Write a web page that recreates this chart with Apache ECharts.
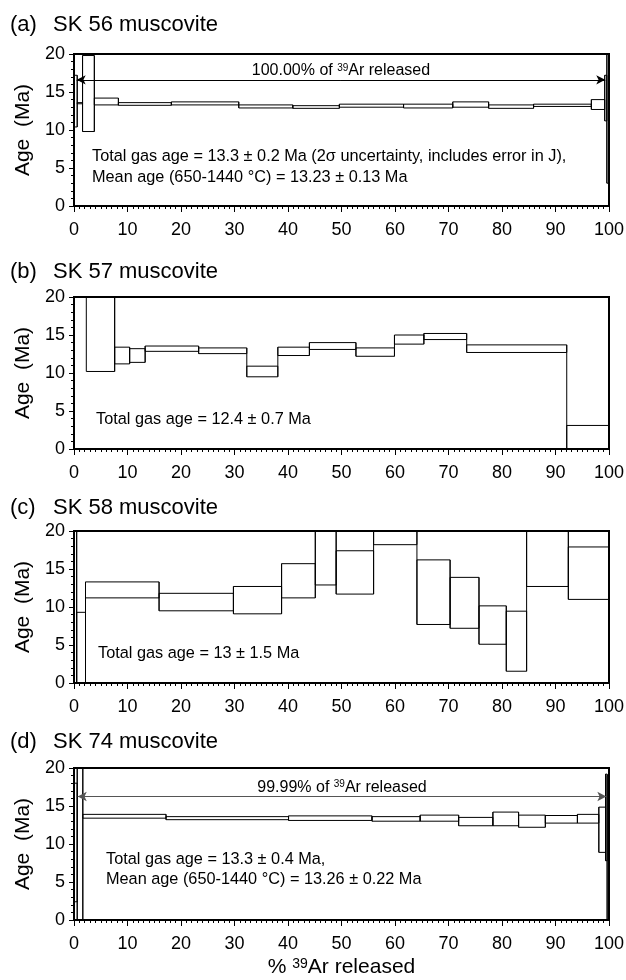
<!DOCTYPE html>
<html lang="en">
<head>
<meta charset="UTF-8">
<title>Age spectra</title>
</head>
<body style="margin:0;background:#fff">
<div id="main" style="width:626px;height:980px"></div>
<script src="https://cdn.jsdelivr.net/npm/echarts@6/dist/echarts.min.js"></script>
<script>
// step edges = cumulative % 39Ar, low/high = age envelope (Ma)
var aEdges = [0, 0.6, 1.6, 3.8, 8.3, 18.2, 30.8, 40.9, 49.6, 61.6, 70.8, 77.5, 85.9, 96.7, 99.2, 99.6, 100];
var aLow   = [10.4, 13.45, 9.8, 13.3, 13.25, 13.3, 12.9, 12.85, 13.0, 12.9, 13.0, 12.85, 13.1, 12.7, 11.2, 3.0];
var aHigh  = [17.2, 13.6, 19.8, 14.2, 13.6, 13.7, 13.3, 13.2, 13.4, 13.4, 13.7, 13.3, 13.4, 14.0, 17.2, 21];

var bEdges = [2.3, 7.6, 10.4, 13.3, 23.3, 32.3, 38.1, 44.0, 52.7, 59.9, 65.4, 73.4, 92.1, 100];
var bLow   = [10.2, 11.2, 11.4, 12.85, 12.55, 9.5, 12.3, 13.1, 12.2, 13.8, 14.4, 12.7, -2];
var bHigh  = [24, 13.4, 13.2, 13.55, 13.3, 10.9, 13.4, 14.0, 13.3, 15.0, 15.2, 13.7, 3.1];

var cEdges = [0, 0.5, 2.15, 15.9, 29.8, 38.8, 45.1, 49.0, 56.0, 64.1, 70.3, 75.7, 80.8, 84.6, 92.4, 100];
var cLow   = [-2, -2, 11.2, 9.5, 9.1, 11.2, 12.9, 11.7, 18.2, 7.7, 7.2, 5.1, 1.55, 12.7, 11.0];
var cHigh  = [22, 9.3, 13.3, 11.8, 12.7, 15.7, 22, 17.4, 22, 16.2, 13.9, 10.15, 9.45, 22, 17.9];

var dEdges = [0, 0.6, 1.65, 17.2, 40.1, 55.7, 64.7, 71.9, 78.3, 83.1, 88.1, 94.1, 98.1, 99.35, 99.65, 100];
var dLow   = [2.4, -2, 13.4, 13.2, 13.1, 13.0, 13.0, 12.4, 12.4, 12.2, 12.75, 12.75, 8.9, 7.8, -2];
var dHigh  = [18.0, 22, 13.9, 13.6, 13.7, 13.6, 13.8, 13.5, 14.2, 13.8, 13.75, 13.9, 14.85, 19.2, 19.0];

// plateau arrows: [from %, to %, age]
var aPlateau = [0.5, 99.3, 16.6];
var dPlateau = [0.7, 99.5, 16.25];

var panelTitles = ['SK 56 muscovite', 'SK 57 muscovite', 'SK 58 muscovite', 'SK 74 muscovite'];
var panelTags = ['(a)', '(b)', '(c)', '(d)'];

var F = 'Liberation Sans, Arial, Helvetica, sans-serif';
var gridTops = [54, 297, 531, 768];
var titleY = [25, 272, 508, 742];

function steps(edges, lo, hi) {
    var out = [];
    for (var i = 0; i < lo.length; i++) {
        out.push([edges[i], edges[i + 1], lo[i], hi[i]]);
    }
    return out;
}

// each box plus a vertical joining it to the previous step
function makeRender(rows) {
    return function (params, api) {
        var i = params.dataIndex;
        var cs = params.coordSys;
        var row = rows[i];
        var p0 = api.coord([row[0], row[3]]);
        var p1 = api.coord([row[1], row[2]]);
        var kids = [];
        var r = echarts.graphic.clipRectByRect(
            {x: p0[0], y: p0[1], width: p1[0] - p0[0], height: p1[1] - p0[1]},
            {x: cs.x, y: cs.y, width: cs.width, height: cs.height});
        if (r) kids.push({type: 'rect', shape: r, style: {fill: 'none', stroke: '#000', lineWidth: 1}});
        if (i > 0 && rows[i - 1][1] === row[0]) {
            var prev = rows[i - 1];
            var lo = api.coord([row[0], Math.min(prev[2], row[2])]);
            var hi = api.coord([row[0], Math.max(prev[3], row[3])]);
            var yb = Math.min(lo[1], cs.y + cs.height), yt = Math.max(hi[1], cs.y);
            kids.push({type: 'line', shape: {x1: lo[0], y1: yb, x2: lo[0], y2: yt},
                style: {stroke: '#000', lineWidth: 1}});
        }
        return {type: 'group', children: kids};
    };
}

function plateauLine(idx, p, label, color) {
    return {
        type: 'line', xAxisIndex: idx, yAxisIndex: idx, data: [],
        markLine: {
            silent: true, animation: false,
            symbol: ['arrow', 'arrow'], symbolSize: [7, 9],
            lineStyle: {color: color, width: 1, type: 'solid'},
            label: {
                show: true, position: 'middle', distance: 1,
                formatter: label, color: '#000', fontSize: 16, fontFamily: F,
                rich: {sup: {fontSize: 10, fontFamily: F, color: '#000', verticalAlign: 'top'}}
            },
            data: [[{coord: [p[0], p[2]]}, {coord: [p[1], p[2]]}]]
        }
    };
}

var grids = [], xAxes = [], yAxes = [];
for (var i = 0; i < 4; i++) {
    grids.push({left: 74, right: 17, top: gridTops[i], height: 152, show: true,
        borderColor: '#000', borderWidth: 2, containLabel: false, outerBoundsMode: 'none'});
    xAxes.push({
        type: 'value', gridIndex: i, min: 0, max: 100, interval: 10,
        axisLine: {show: true, onZero: false, lineStyle: {color: '#000', width: 2}},
        axisTick: {show: true, length: 6, lineStyle: {color: '#000', width: 1}},
        minorTick: {show: true, splitNumber: 10, length: 3, lineStyle: {color: '#000', width: 1}},
        axisLabel: {color: '#000', fontSize: 18, fontFamily: F, margin: 15},
        splitLine: {show: false}, minorSplitLine: {show: false},
        name: i === 3 ? '% {sup|39}Ar released' : '',
        nameLocation: 'middle', nameGap: 37,
        nameTextStyle: {color: '#000', fontSize: 21, fontFamily: F,
            rich: {sup: {fontSize: 14, fontFamily: F, color: '#000', verticalAlign: 'top'}}}
    });
    yAxes.push({
        type: 'value', gridIndex: i, min: 0, max: 20, interval: 5,
        axisLine: {show: true, onZero: false, lineStyle: {color: '#000', width: 2}},
        axisTick: {show: true, length: 5, lineStyle: {color: '#000', width: 1}},
        minorTick: {show: true, splitNumber: 5, length: 3, lineStyle: {color: '#000', width: 1}},
        axisLabel: {color: '#000', fontSize: 18, fontFamily: F, margin: 9},
        splitLine: {show: false}, minorSplitLine: {show: false},
        name: 'Age  (Ma)', nameLocation: 'middle', nameGap: 40, nameRotate: 90,
        nameTextStyle: {color: '#000', fontSize: 21, fontFamily: F}
    });
}

var allSteps = [steps(aEdges, aLow, aHigh), steps(bEdges, bLow, bHigh),
                steps(cEdges, cLow, cHigh), steps(dEdges, dLow, dHigh)];
var series = [];
for (var k = 0; k < 4; k++) {
    series.push({
        type: 'custom', xAxisIndex: k, yAxisIndex: k, renderItem: makeRender(allSteps[k]),
        encode: {x: [0, 1], y: [2, 3]}, data: allSteps[k], silent: true
    });
}
series.push(plateauLine(0, aPlateau, '100.00% of {sup|39}Ar released', '#000'));
series.push(plateauLine(3, dPlateau, '99.99% of {sup|39}Ar released', '#555'));

function txt(x, y, s, size) {
    return {type: 'text', x: x, y: y, silent: true,
        style: {text: s, fontSize: size, fontFamily: F, fill: '#000', verticalAlign: 'middle', align: 'left'}};
}

var graphics = [];
for (var t = 0; t < 4; t++) {
    graphics.push(txt(10, titleY[t], panelTags[t], 22));
    graphics.push(txt(53, titleY[t], panelTitles[t], 22));
}
graphics.push(txt(92, 157, 'Total gas age = 13.3 \u00b1 0.2 Ma (2\u03c3 uncertainty, includes error in J),', 16.3));
graphics.push(txt(92, 178, 'Mean age (650-1440 \u00b0C) = 13.23 \u00b1 0.13 Ma', 16.3));
graphics.push(txt(96, 420, 'Total gas age = 12.4 \u00b1 0.7 Ma', 16.3));
graphics.push(txt(98, 654, 'Total gas age = 13 \u00b1 1.5 Ma', 16.3));
graphics.push(txt(106, 860, 'Total gas age = 13.3 \u00b1 0.4 Ma,', 16.3));
graphics.push(txt(106, 880, 'Mean age (650-1440 \u00b0C) = 13.26 \u00b1 0.22 Ma', 16.3));

var chart = echarts.init(document.getElementById('main'));
chart.setOption({
    animation: false,
    backgroundColor: '#fff',
    grid: grids,
    xAxis: xAxes,
    yAxis: yAxes,
    series: series,
    graphic: graphics
});
</script>
</body>
</html>
